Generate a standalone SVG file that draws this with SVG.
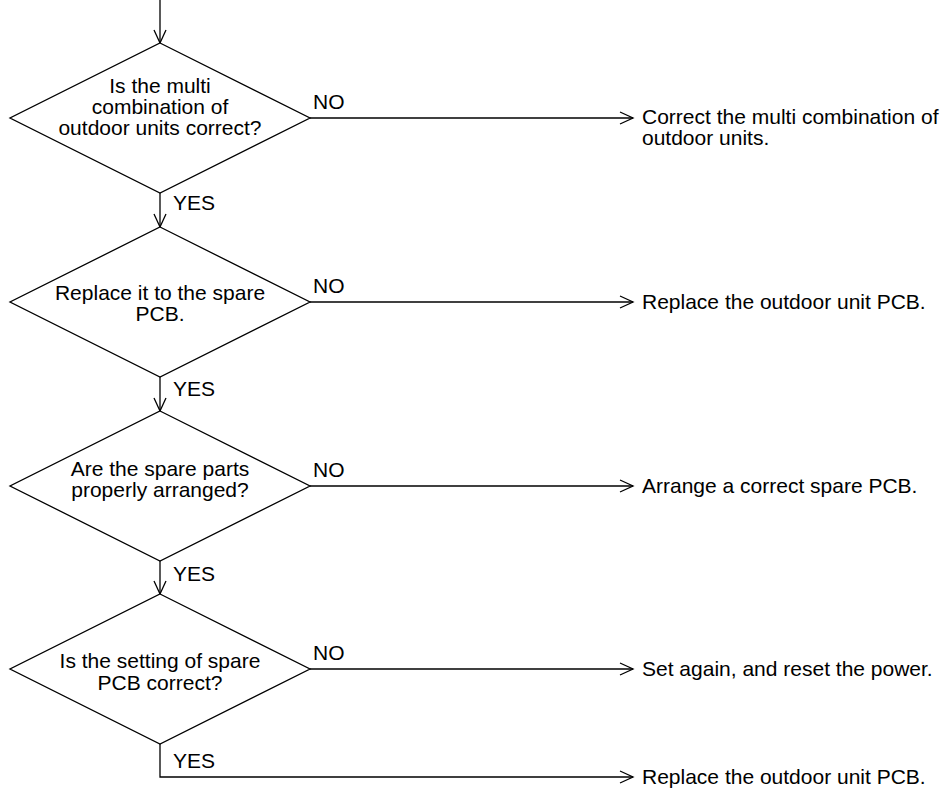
<svg xmlns="http://www.w3.org/2000/svg" width="948" height="792" viewBox="0 0 948 792">
<style>
.shape{fill:#fff;stroke:#000;stroke-width:1.3}
.conn{fill:none;stroke:#000;stroke-width:1.3}
text{font-family:"Liberation Sans",Arial,Helvetica,sans-serif;font-size:21px;fill:#000}
.c{text-anchor:middle}
</style>
<defs>
<marker id="arr" markerUnits="userSpaceOnUse" markerWidth="16" markerHeight="14" viewBox="0 0 16 14" refX="14" refY="7" orient="auto">
<path d="M1,1 L14,7 L1,13" fill="none" stroke="#000" stroke-width="1.3"/>
</marker>
</defs>
<rect width="948" height="792" fill="#fff"/>
<g id="connectors">
<line class="conn" x1="160" y1="0" x2="160" y2="43" marker-end="url(#arr)"/>
<line class="conn" x1="310" y1="118" x2="633" y2="118" marker-end="url(#arr)"/>
<line class="conn" x1="160" y1="193" x2="160" y2="227" marker-end="url(#arr)"/>
<line class="conn" x1="310" y1="302" x2="633" y2="302" marker-end="url(#arr)"/>
<line class="conn" x1="160" y1="377" x2="160" y2="411" marker-end="url(#arr)"/>
<line class="conn" x1="310" y1="486" x2="633" y2="486" marker-end="url(#arr)"/>
<line class="conn" x1="160" y1="561" x2="160" y2="594" marker-end="url(#arr)"/>
<line class="conn" x1="310" y1="669" x2="633" y2="669" marker-end="url(#arr)"/>
<polyline class="conn" points="160,744 160,777 633,777" marker-end="url(#arr)"/>
<text x="313" y="109">NO</text>
<text x="173" y="210">YES</text>
<text x="313" y="293">NO</text>
<text x="173" y="396">YES</text>
<text x="313" y="477">NO</text>
<text x="173" y="581">YES</text>
<text x="313" y="660">NO</text>
<text x="173" y="768">YES</text>
</g>
<g id="d1">
<polygon class="shape" points="160,43 310,118 160,193 10,118"/>
<text class="c" x="160" y="93">Is the multi</text>
<text class="c" x="160" y="114">combination of</text>
<text class="c" x="160" y="135">outdoor units correct?</text>
</g>
<g id="r1">
<text x="642" y="124">Correct the multi combination of</text>
<text x="642" y="145">outdoor units.</text>
</g>
<g id="d2">
<polygon class="shape" points="160,227 310,302 160,377 10,302"/>
<text class="c" x="160" y="300">Replace it to the spare</text>
<text class="c" x="160" y="321">PCB.</text>
</g>
<g id="r2">
<text x="642" y="309">Replace the outdoor unit PCB.</text>
</g>
<g id="d3">
<polygon class="shape" points="160,411 310,486 160,561 10,486"/>
<text class="c" x="160" y="476">Are the spare parts</text>
<text class="c" x="160" y="497">properly arranged?</text>
</g>
<g id="r3">
<text x="642" y="493">Arrange a correct spare PCB.</text>
</g>
<g id="d4">
<polygon class="shape" points="160,594 310,669 160,744 10,669"/>
<text class="c" x="160" y="668">Is the setting of spare</text>
<text class="c" x="160" y="690">PCB correct?</text>
</g>
<g id="r4">
<text x="642" y="676">Set again, and reset the power.</text>
</g>
<g id="r5">
<text x="642" y="784">Replace the outdoor unit PCB.</text>
</g>
</svg>
